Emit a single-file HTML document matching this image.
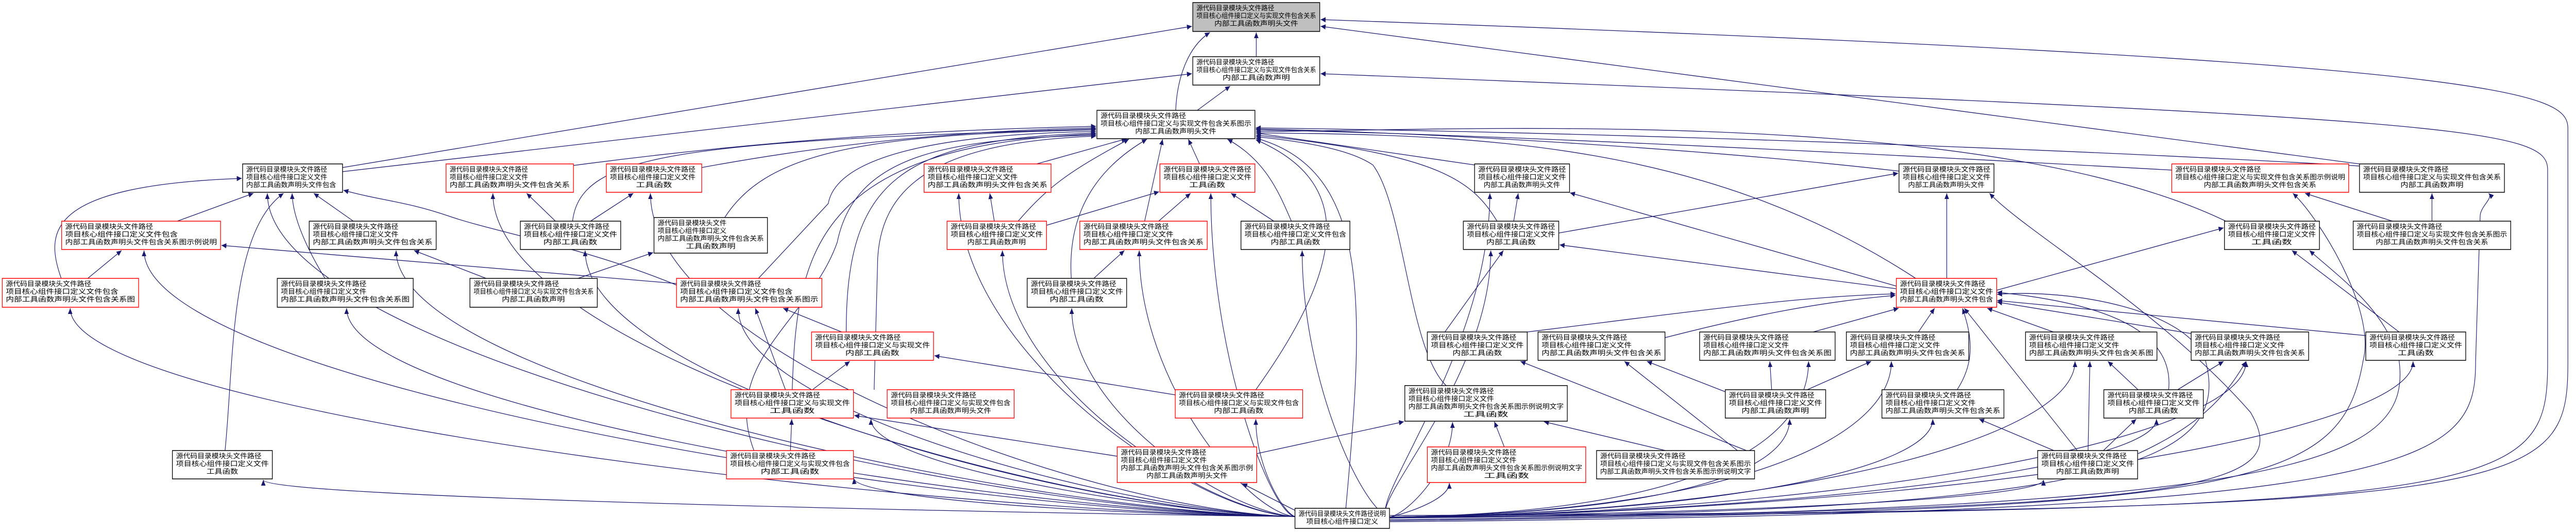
<!DOCTYPE html>
<html><head><meta charset="utf-8"><style>
html,body{margin:0;padding:0;background:#fff;width:100%;height:100%;overflow:hidden}
svg{display:block;overflow:hidden;width:100vw;height:100vh;position:absolute;left:0;top:0}
text{font-family:"Liberation Sans","Noto Sans CJK SC",sans-serif;font-size:13px;fill:#000}
.m{text-anchor:middle}
.n rect{fill:#fff;stroke:#000;stroke-width:1.5}
.r rect{fill:#fff;stroke:#ff0000;stroke-width:1.5}
.e path{fill:none;stroke:#191970;stroke-width:1.3}
</style></head><body>
<svg viewBox="0 0 5723 1032" preserveAspectRatio="none" xmlns="http://www.w3.org/2000/svg">
<defs><marker id="a" markerUnits="userSpaceOnUse" markerWidth="12" markerHeight="10" refX="11" refY="5" orient="auto"><path d="M0,0 L11,5 L0,10 z" fill="#191970"/></marker></defs>
<g class="e" marker-end="url(#a)">
<path d="M2791,110 L2791,63"/>
<path d="M2612,214 C2615,150 2640,90 2688,63"/>
<path d="M2660,214 L2733,167"/>
<path d="M761,325 L2648,51"/>
<path d="M761,333 L2648,143"/>
<path d="M3088,1000 C5640,990 5705,960 5705,700 L5705,250 C5705,180 5600,120 2934,38"/>
<path d="M3088,1003 C5590,990 5660,960 5660,700 L5660,330 C5660,250 5500,230 2934,143"/>
<path d="M5242,318 L2934,51"/>
<path d="M1274,321 C1800,260 2200,250 2435,245"/>
<path d="M1559,325 C1900,270 2200,252 2435,248"/>
<path d="M1272,429 C1290,300 1500,275 2435,250"/>
<path d="M1610,422 C1700,300 1900,260 2435,252"/>
<path d="M1685,540 L1840,395 C1860,300 2100,260 2435,255"/>
<path d="M1880,644 C1880,350 2000,270 2435,258"/>
<path d="M1760,756 C1770,500 1800,280 2435,260"/>
<path d="M1675,874 C1600,700 1800,620 1860,470 C1900,300 2100,270 2435,262"/>
<path d="M1942,756 L1950,500 C1960,350 2100,275 2435,264"/>
<path d="M2303,318 L2503,269"/>
<path d="M2262,429 C2330,360 2380,330 2508,270"/>
<path d="M2380,540 C2370,400 2450,320 2548,270"/>
<path d="M2543,429 L2583,270"/>
<path d="M2665,318 L2640,270"/>
<path d="M2869,429 C2840,370 2810,310 2727,270"/>
<path d="M2790,756 C3000,500 3000,350 2790,271"/>
<path d="M3276,320 L2790,258"/>
<path d="M3326,429 C3270,350 3200,300 2790,262"/>
<path d="M3213,748 C3130,680 3120,400 3050,320 C3000,290 2900,275 2790,265"/>
<path d="M2990,986 C3030,600 3050,330 2790,268"/>
<path d="M4945,429 C4400,200 3200,255 2790,255"/>
<path d="M4825,330 C4000,290 3200,258 2790,252"/>
<path d="M4219,332 C3800,290 3200,258 2790,250"/>
<path d="M5242,322 C4400,280 3400,255 2790,248"/>
<path d="M4256,540 C3800,280 3300,260 2790,258"/>
<path d="M3393,644 C3800,600 4000,575 4211,570"/>
<path d="M3699,655 C3900,610 4050,585 4211,573"/>
<path d="M4028,644 L4218,598"/>
<path d="M4262,644 L4298,598"/>
<path d="M4562,644 L4415,598"/>
<path d="M4868,647 L4437,586"/>
<path d="M5256,651 L4437,583"/>
<path d="M4348,756 C4390,700 4380,650 4360,598"/>
<path d="M4615,874 L4364,598"/>
<path d="M4818,756 C4830,650 4700,590 4437,567"/>
<path d="M4436,563 L4940,442"/>
<path d="M4325,540 L4325,375"/>
<path d="M5315,429 L5121,375"/>
<path d="M5403,429 L5403,375"/>
<path d="M5330,644 L5092,486"/>
<path d="M3463,452 L4217,336"/>
<path d="M4212,560 L3465,475"/>
<path d="M3210,644 L3340,486"/>
<path d="M3833,760 L3659,701"/>
<path d="M3880,874 L3378,701"/>
<path d="M3860,874 L3609,701"/>
<path d="M2792,880 L3119,818"/>
<path d="M3342,867 L3320,818"/>
<path d="M3700,874 L3430,818"/>
<path d="M394,429 L563,375"/>
<path d="M785,429 L697,375"/>
<path d="M722,540 C680,480 650,420 649,375"/>
<path d="M500,874 C520,700 510,450 630,375"/>
<path d="M136,540 C100,450 100,360 537,346"/>
<path d="M1503,553 C1300,480 1100,450 1000,420 C900,390 850,390 763,369"/>
<path d="M195,540 L270,486"/>
<path d="M1503,550 L492,476"/>
<path d="M1080,540 L920,486"/>
<path d="M1284,540 L1451,490"/>
<path d="M1234,429 L1170,375"/>
<path d="M1312,429 L1407,375"/>
<path d="M1870,644 L1740,598"/>
<path d="M1745,756 L1678,598"/>
<path d="M1805,756 L1888,701"/>
<path d="M1756,874 L1759,813"/>
<path d="M2209,429 L2199,375"/>
<path d="M2325,437 L2575,372"/>
<path d="M2574,429 L2645,375"/>
<path d="M2830,429 L2735,375"/>
<path d="M2430,540 L2498,486"/>
<path d="M2611,766 L2076,690"/>
<path d="M2482,885 L1898,806"/>
<path d="M3363,429 L3373,375"/>
<path d="M4213,555 L3488,374"/>
<path d="M3936,756 L3932,701"/>
<path d="M4015,756 L4157,701"/>
<path d="M4639,874 L4643,701"/>
<path d="M4750,756 L4683,701"/>
<path d="M4838,756 L4940,701"/>
<path d="M4750,880 C4900,820 4950,760 4990,701"/>
<path d="M4563,874 L4397,813"/>
<path d="M4673,874 L4746,813"/>
<path d="M3088,1010 C5000,990 5200,950 5250,700 C5280,600 5150,420 5094,375"/>
<path d="M3088,1012 C5400,995 5500,900 5500,700 L5510,420 C5510,400 5540,385 5529,375"/>
<path d="M3088,1008 C5100,990 5360,900 5330,700 C5300,600 5200,540 5131,486"/>
<path d="M3088,1005 C4900,990 5100,950 5000,800 C4800,600 4500,450 4420,375"/>
<path d="M3088,1004 C4700,995 4960,900 4900,700 C4860,600 4600,560 4437,571"/>
<path d="M2877,1002 C2300,995 1900,960 1897,928"/>
<path d="M2877,990 L2760,938"/>
<path d="M2877,1002 C2041,995 156,800 156,598"/>
<path d="M2877,1002 C2090,995 320,742 320,486"/>
<path d="M2877,1002 C2172,995 594,687 594,375"/>
<path d="M2877,1002 C2192,995 585,965 585,931"/>
<path d="M2877,1002 C2270,995 770,798 770,598"/>
<path d="M2877,1002 C2300,995 880,742 880,486"/>
<path d="M2877,1002 C2362,995 1095,687 1095,375"/>
<path d="M2877,1002 C2404,995 1300,742 1300,486"/>
<path d="M2877,1002 C2447,995 1445,687 1445,375"/>
<path d="M2877,1002 C2506,995 1640,798 1640,598"/>
<path d="M2877,1002 C2653,995 2130,687 2130,375"/>
<path d="M2877,1002 C2682,995 2227,742 2227,486"/>
<path d="M2877,1002 C2595,995 1935,906 1935,813"/>
<path d="M2877,1002 C2771,995 2531,742 2531,486"/>
<path d="M2877,1002 C2728,995 2381,798 2381,598"/>
<path d="M2877,1002 C2821,995 2690,687 2690,375"/>
<path d="M2877,1002 C2851,995 2790,906 2790,813"/>
<path d="M3088,1003 C3030,995 2893,742 2893,486"/>
<path d="M3088,1003 C3020,995 3312,742 3312,486"/>
<path d="M3088,1003 C3020,995 3310,687 3310,375"/>
<path d="M3088,1003 C3130,995 3227,906 3227,819"/>
<path d="M3088,1003 C3128,995 3220,968 3220,937"/>
<path d="M3088,1003 C3797,995 4018,850 4018,701"/>
<path d="M3088,1003 C3852,995 4202,850 4202,701"/>
<path d="M3088,1003 C3975,995 4610,850 4610,701"/>
<path d="M3088,1003 C4119,995 4990,850 4990,701"/>
<path d="M3088,1003 C4230,995 5361,850 5361,701"/>
<path d="M3088,1003 C3749,995 3976,906 3976,813"/>
<path d="M3088,1003 C3844,995 4294,906 4294,813"/>
<path d="M3088,1003 C3993,995 4791,906 4791,813"/>
<path d="M3088,1003 C3924,995 4540,965 4540,931"/>
</g>
<g class="n"><rect x="2650" y="5" width="282" height="56" style="fill:#bfbfbf"/><text x="2658" y="20" textLength="173" lengthAdjust="spacingAndGlyphs">源代码目录模块头文件路径</text><text x="2658" y="35" textLength="266" lengthAdjust="spacingAndGlyphs">项目核心组件接口定义与实现文件包含关系</text><text class="m" x="2791" y="50" textLength="186" lengthAdjust="spacingAndGlyphs">内部工具函数声明头文件</text></g>
<g class="n"><rect x="2650" y="110" width="282" height="55"/><text x="2658" y="125" textLength="173" lengthAdjust="spacingAndGlyphs">源代码目录模块头文件路径</text><text x="2658" y="140" textLength="266" lengthAdjust="spacingAndGlyphs">项目核心组件接口定义与实现文件包含关系</text><text class="m" x="2791" y="155" textLength="150" lengthAdjust="spacingAndGlyphs">内部工具函数声明</text></g>
<g class="n"><rect x="2437" y="214" width="351" height="55"/><text x="2445" y="229" textLength="190" lengthAdjust="spacingAndGlyphs">源代码目录模块头文件路径</text><text x="2445" y="244" textLength="335" lengthAdjust="spacingAndGlyphs">项目核心组件接口定义与实现文件包含关系图示</text><text class="m" x="2612" y="259" textLength="180" lengthAdjust="spacingAndGlyphs">内部工具函数声明头文件</text></g>
<g class="n"><rect x="539" y="318" width="222" height="55"/><text x="547" y="333" textLength="180" lengthAdjust="spacingAndGlyphs">源代码目录模块头文件路径</text><text x="547" y="348" textLength="180" lengthAdjust="spacingAndGlyphs">项目核心组件接口定义文件</text><text x="547" y="363" textLength="200" lengthAdjust="spacingAndGlyphs">内部工具函数声明头文件包含</text></g>
<g class="r"><rect x="991" y="318" width="283" height="55"/><text x="999" y="333" textLength="174" lengthAdjust="spacingAndGlyphs">源代码目录模块头文件路径</text><text x="999" y="348" textLength="174" lengthAdjust="spacingAndGlyphs">项目核心组件接口定义文件</text><text x="999" y="363" textLength="267" lengthAdjust="spacingAndGlyphs">内部工具函数声明头文件包含关系</text></g>
<g class="r"><rect x="1347" y="318" width="212" height="55"/><text x="1355" y="333" textLength="190" lengthAdjust="spacingAndGlyphs">源代码目录模块头文件路径</text><text x="1355" y="348" textLength="190" lengthAdjust="spacingAndGlyphs">项目核心组件接口定义文件</text><text class="m" x="1453" y="363" textLength="80" lengthAdjust="spacingAndGlyphs">工具函数</text></g>
<g class="r"><rect x="2053" y="318" width="282" height="55"/><text x="2061" y="333" textLength="190" lengthAdjust="spacingAndGlyphs">源代码目录模块头文件路径</text><text x="2061" y="348" textLength="200" lengthAdjust="spacingAndGlyphs">项目核心组件接口定义文件</text><text x="2061" y="363" textLength="266" lengthAdjust="spacingAndGlyphs">内部工具函数声明头文件包含关系</text></g>
<g class="r"><rect x="2577" y="318" width="211" height="55"/><text x="2585" y="333" textLength="195" lengthAdjust="spacingAndGlyphs">源代码目录模块头文件路径</text><text x="2585" y="348" textLength="195" lengthAdjust="spacingAndGlyphs">项目核心组件接口定义文件</text><text class="m" x="2682" y="363" textLength="80" lengthAdjust="spacingAndGlyphs">工具函数</text></g>
<g class="n"><rect x="3276" y="318" width="211" height="55"/><text x="3284" y="333" textLength="195" lengthAdjust="spacingAndGlyphs">源代码目录模块头文件路径</text><text x="3284" y="348" textLength="195" lengthAdjust="spacingAndGlyphs">项目核心组件接口定义文件</text><text class="m" x="3381" y="363" textLength="170" lengthAdjust="spacingAndGlyphs">内部工具函数声明头文件</text></g>
<g class="n"><rect x="4219" y="318" width="211" height="55"/><text x="4227" y="333" textLength="195" lengthAdjust="spacingAndGlyphs">源代码目录模块头文件路径</text><text x="4227" y="348" textLength="195" lengthAdjust="spacingAndGlyphs">项目核心组件接口定义文件</text><text class="m" x="4324" y="363" textLength="170" lengthAdjust="spacingAndGlyphs">内部工具函数声明头文件</text></g>
<g class="r"><rect x="4825" y="318" width="393" height="55"/><text x="4833" y="333" textLength="190" lengthAdjust="spacingAndGlyphs">源代码目录模块头文件路径</text><text x="4833" y="348" textLength="377" lengthAdjust="spacingAndGlyphs">项目核心组件接口定义与实现文件包含关系图示例说明</text><text class="m" x="5021" y="363" textLength="250" lengthAdjust="spacingAndGlyphs">内部工具函数声明头文件包含关系</text></g>
<g class="n"><rect x="5242" y="318" width="322" height="55"/><text x="5250" y="333" textLength="190" lengthAdjust="spacingAndGlyphs">源代码目录模块头文件路径</text><text x="5250" y="348" textLength="306" lengthAdjust="spacingAndGlyphs">项目核心组件接口定义与实现文件包含关系</text><text class="m" x="5403" y="363" textLength="140" lengthAdjust="spacingAndGlyphs">内部工具函数声明</text></g>
<g class="r"><rect x="137" y="429" width="353" height="55"/><text x="145" y="444" textLength="195" lengthAdjust="spacingAndGlyphs">源代码目录模块头文件路径</text><text x="145" y="459" textLength="250" lengthAdjust="spacingAndGlyphs">项目核心组件接口定义文件包含</text><text x="145" y="474" textLength="337" lengthAdjust="spacingAndGlyphs">内部工具函数声明头文件包含关系图示例说明</text></g>
<g class="n"><rect x="687" y="429" width="282" height="55"/><text x="695" y="444" textLength="190" lengthAdjust="spacingAndGlyphs">源代码目录模块头文件路径</text><text x="695" y="459" textLength="190" lengthAdjust="spacingAndGlyphs">项目核心组件接口定义文件</text><text x="695" y="474" textLength="266" lengthAdjust="spacingAndGlyphs">内部工具函数声明头文件包含关系</text></g>
<g class="n"><rect x="1156" y="429" width="223" height="55"/><text x="1164" y="444" textLength="190" lengthAdjust="spacingAndGlyphs">源代码目录模块头文件路径</text><text x="1164" y="459" textLength="207" lengthAdjust="spacingAndGlyphs">项目核心组件接口定义文件</text><text class="m" x="1267" y="474" textLength="120" lengthAdjust="spacingAndGlyphs">内部工具函数</text></g>
<g class="n"><rect x="1453" y="422" width="252" height="69"/><text x="1461" y="437" textLength="153" lengthAdjust="spacingAndGlyphs">源代码目录模块头文件</text><text x="1461" y="452" textLength="153" lengthAdjust="spacingAndGlyphs">项目核心组件接口定义</text><text x="1461" y="467" textLength="236" lengthAdjust="spacingAndGlyphs">内部工具函数声明头文件包含关系</text><text class="m" x="1579" y="482" textLength="110" lengthAdjust="spacingAndGlyphs">工具函数声明</text></g>
<g class="r"><rect x="2104" y="429" width="221" height="55"/><text x="2112" y="444" textLength="190" lengthAdjust="spacingAndGlyphs">源代码目录模块头文件路径</text><text x="2112" y="459" textLength="205" lengthAdjust="spacingAndGlyphs">项目核心组件接口定义文件</text><text class="m" x="2214" y="474" textLength="130" lengthAdjust="spacingAndGlyphs">内部工具函数声明</text></g>
<g class="r"><rect x="2399" y="429" width="283" height="55"/><text x="2407" y="444" textLength="190" lengthAdjust="spacingAndGlyphs">源代码目录模块头文件路径</text><text x="2407" y="459" textLength="200" lengthAdjust="spacingAndGlyphs">项目核心组件接口定义文件</text><text x="2407" y="474" textLength="267" lengthAdjust="spacingAndGlyphs">内部工具函数声明头文件包含关系</text></g>
<g class="n"><rect x="2757" y="429" width="242" height="55"/><text x="2765" y="444" textLength="190" lengthAdjust="spacingAndGlyphs">源代码目录模块头文件路径</text><text x="2765" y="459" textLength="226" lengthAdjust="spacingAndGlyphs">项目核心组件接口定义文件包含</text><text class="m" x="2878" y="474" textLength="110" lengthAdjust="spacingAndGlyphs">内部工具函数</text></g>
<g class="n"><rect x="3251" y="429" width="212" height="55"/><text x="3259" y="444" textLength="196" lengthAdjust="spacingAndGlyphs">源代码目录模块头文件路径</text><text x="3259" y="459" textLength="196" lengthAdjust="spacingAndGlyphs">项目核心组件接口定义文件</text><text class="m" x="3357" y="474" textLength="110" lengthAdjust="spacingAndGlyphs">内部工具函数</text></g>
<g class="n"><rect x="4942" y="429" width="211" height="55"/><text x="4950" y="444" textLength="195" lengthAdjust="spacingAndGlyphs">源代码目录模块头文件路径</text><text x="4950" y="459" textLength="195" lengthAdjust="spacingAndGlyphs">项目核心组件接口定义文件</text><text class="m" x="5047" y="474" textLength="90" lengthAdjust="spacingAndGlyphs">工具函数</text></g>
<g class="n"><rect x="5228" y="429" width="350" height="55"/><text x="5236" y="444" textLength="190" lengthAdjust="spacingAndGlyphs">源代码目录模块头文件路径</text><text x="5236" y="459" textLength="334" lengthAdjust="spacingAndGlyphs">项目核心组件接口定义与实现文件包含关系图示</text><text class="m" x="5403" y="474" textLength="250" lengthAdjust="spacingAndGlyphs">内部工具函数声明头文件包含关系</text></g>
<g class="r"><rect x="5" y="540" width="303" height="56"/><text x="13" y="555" textLength="190" lengthAdjust="spacingAndGlyphs">源代码目录模块头文件路径</text><text x="13" y="570" textLength="250" lengthAdjust="spacingAndGlyphs">项目核心组件接口定义文件包含</text><text x="13" y="585" textLength="287" lengthAdjust="spacingAndGlyphs">内部工具函数声明头文件包含关系图</text></g>
<g class="n"><rect x="616" y="540" width="302" height="56"/><text x="624" y="555" textLength="190" lengthAdjust="spacingAndGlyphs">源代码目录模块头文件路径</text><text x="624" y="570" textLength="190" lengthAdjust="spacingAndGlyphs">项目核心组件接口定义文件</text><text x="624" y="585" textLength="286" lengthAdjust="spacingAndGlyphs">内部工具函数声明头文件包含关系图</text></g>
<g class="n"><rect x="1044" y="540" width="283" height="56"/><text x="1052" y="555" textLength="190" lengthAdjust="spacingAndGlyphs">源代码目录模块头文件路径</text><text x="1052" y="570" textLength="267" lengthAdjust="spacingAndGlyphs">项目核心组件接口定义与实现文件包含关系</text><text class="m" x="1185" y="585" textLength="140" lengthAdjust="spacingAndGlyphs">内部工具函数声明</text></g>
<g class="r"><rect x="1503" y="540" width="323" height="56"/><text x="1511" y="555" textLength="180" lengthAdjust="spacingAndGlyphs">源代码目录模块头文件路径</text><text x="1511" y="570" textLength="250" lengthAdjust="spacingAndGlyphs">项目核心组件接口定义文件包含</text><text x="1511" y="585" textLength="307" lengthAdjust="spacingAndGlyphs">内部工具函数声明头文件包含关系图示</text></g>
<g class="n"><rect x="2282" y="540" width="221" height="56"/><text x="2290" y="555" textLength="190" lengthAdjust="spacingAndGlyphs">源代码目录模块头文件路径</text><text x="2290" y="570" textLength="205" lengthAdjust="spacingAndGlyphs">项目核心组件接口定义文件</text><text class="m" x="2392" y="585" textLength="120" lengthAdjust="spacingAndGlyphs">内部工具函数</text></g>
<g class="r"><rect x="4213" y="540" width="223" height="56"/><text x="4221" y="555" textLength="190" lengthAdjust="spacingAndGlyphs">源代码目录模块头文件路径</text><text x="4221" y="570" textLength="207" lengthAdjust="spacingAndGlyphs">项目核心组件接口定义文件</text><text x="4221" y="585" textLength="207" lengthAdjust="spacingAndGlyphs">内部工具函数声明头文件包含</text></g>
<g class="r"><rect x="1803" y="644" width="271" height="55"/><text x="1811" y="659" textLength="190" lengthAdjust="spacingAndGlyphs">源代码目录模块头文件路径</text><text x="1811" y="674" textLength="255" lengthAdjust="spacingAndGlyphs">项目核心组件接口定义与实现文件</text><text class="m" x="1938" y="689" textLength="120" lengthAdjust="spacingAndGlyphs">内部工具函数</text></g>
<g class="n"><rect x="3171" y="644" width="222" height="55"/><text x="3179" y="659" textLength="190" lengthAdjust="spacingAndGlyphs">源代码目录模块头文件路径</text><text x="3179" y="674" textLength="206" lengthAdjust="spacingAndGlyphs">项目核心组件接口定义文件</text><text class="m" x="3282" y="689" textLength="110" lengthAdjust="spacingAndGlyphs">内部工具函数</text></g>
<g class="n"><rect x="3417" y="644" width="282" height="55"/><text x="3425" y="659" textLength="190" lengthAdjust="spacingAndGlyphs">源代码目录模块头文件路径</text><text x="3425" y="674" textLength="200" lengthAdjust="spacingAndGlyphs">项目核心组件接口定义文件</text><text x="3425" y="689" textLength="266" lengthAdjust="spacingAndGlyphs">内部工具函数声明头文件包含关系</text></g>
<g class="n"><rect x="3776" y="644" width="301" height="55"/><text x="3784" y="659" textLength="190" lengthAdjust="spacingAndGlyphs">源代码目录模块头文件路径</text><text x="3784" y="674" textLength="190" lengthAdjust="spacingAndGlyphs">项目核心组件接口定义文件</text><text x="3784" y="689" textLength="285" lengthAdjust="spacingAndGlyphs">内部工具函数声明头文件包含关系图</text></g>
<g class="n"><rect x="4102" y="644" width="272" height="55"/><text x="4110" y="659" textLength="190" lengthAdjust="spacingAndGlyphs">源代码目录模块头文件路径</text><text x="4110" y="674" textLength="200" lengthAdjust="spacingAndGlyphs">项目核心组件接口定义文件</text><text x="4110" y="689" textLength="256" lengthAdjust="spacingAndGlyphs">内部工具函数声明头文件包含关系</text></g>
<g class="n"><rect x="4500" y="644" width="292" height="55"/><text x="4508" y="659" textLength="190" lengthAdjust="spacingAndGlyphs">源代码目录模块头文件路径</text><text x="4508" y="674" textLength="200" lengthAdjust="spacingAndGlyphs">项目核心组件接口定义文件</text><text x="4508" y="689" textLength="276" lengthAdjust="spacingAndGlyphs">内部工具函数声明头文件包含关系图</text></g>
<g class="n"><rect x="4868" y="644" width="261" height="55"/><text x="4876" y="659" textLength="190" lengthAdjust="spacingAndGlyphs">源代码目录模块头文件路径</text><text x="4876" y="674" textLength="200" lengthAdjust="spacingAndGlyphs">项目核心组件接口定义文件</text><text x="4876" y="689" textLength="245" lengthAdjust="spacingAndGlyphs">内部工具函数声明头文件包含关系</text></g>
<g class="n"><rect x="5256" y="644" width="222" height="55"/><text x="5264" y="659" textLength="190" lengthAdjust="spacingAndGlyphs">源代码目录模块头文件路径</text><text x="5264" y="674" textLength="206" lengthAdjust="spacingAndGlyphs">项目核心组件接口定义文件</text><text class="m" x="5367" y="689" textLength="80" lengthAdjust="spacingAndGlyphs">工具函数</text></g>
<g class="r"><rect x="1624" y="756" width="272" height="55"/><text x="1632" y="771" textLength="190" lengthAdjust="spacingAndGlyphs">源代码目录模块头文件路径</text><text x="1632" y="786" textLength="256" lengthAdjust="spacingAndGlyphs">项目核心组件接口定义与实现文件</text><text class="m" x="1760" y="801" textLength="100" lengthAdjust="spacingAndGlyphs">工具函数</text></g>
<g class="r"><rect x="1971" y="756" width="282" height="55"/><text x="1979" y="771" textLength="190" lengthAdjust="spacingAndGlyphs">源代码目录模块头文件路径</text><text x="1979" y="786" textLength="266" lengthAdjust="spacingAndGlyphs">项目核心组件接口定义与实现文件包含</text><text class="m" x="2112" y="801" textLength="180" lengthAdjust="spacingAndGlyphs">内部工具函数声明头文件</text></g>
<g class="r"><rect x="2611" y="756" width="283" height="55"/><text x="2619" y="771" textLength="190" lengthAdjust="spacingAndGlyphs">源代码目录模块头文件路径</text><text x="2619" y="786" textLength="267" lengthAdjust="spacingAndGlyphs">项目核心组件接口定义与实现文件包含</text><text class="m" x="2752" y="801" textLength="110" lengthAdjust="spacingAndGlyphs">内部工具函数</text></g>
<g class="n"><rect x="3121" y="748" width="361" height="69"/><text x="3129" y="763" textLength="190" lengthAdjust="spacingAndGlyphs">源代码目录模块头文件路径</text><text x="3129" y="778" textLength="190" lengthAdjust="spacingAndGlyphs">项目核心组件接口定义文件</text><text x="3129" y="793" textLength="345" lengthAdjust="spacingAndGlyphs">内部工具函数声明头文件包含关系图示例说明文字</text><text class="m" x="3301" y="808" textLength="100" lengthAdjust="spacingAndGlyphs">工具函数</text></g>
<g class="n"><rect x="3833" y="756" width="223" height="55"/><text x="3841" y="771" textLength="190" lengthAdjust="spacingAndGlyphs">源代码目录模块头文件路径</text><text x="3841" y="786" textLength="207" lengthAdjust="spacingAndGlyphs">项目核心组件接口定义文件</text><text class="m" x="3944" y="801" textLength="150" lengthAdjust="spacingAndGlyphs">内部工具函数声明</text></g>
<g class="n"><rect x="4181" y="756" width="271" height="55"/><text x="4189" y="771" textLength="190" lengthAdjust="spacingAndGlyphs">源代码目录模块头文件路径</text><text x="4189" y="786" textLength="200" lengthAdjust="spacingAndGlyphs">项目核心组件接口定义文件</text><text x="4189" y="801" textLength="255" lengthAdjust="spacingAndGlyphs">内部工具函数声明头文件包含关系</text></g>
<g class="n"><rect x="4674" y="756" width="221" height="55"/><text x="4682" y="771" textLength="190" lengthAdjust="spacingAndGlyphs">源代码目录模块头文件路径</text><text x="4682" y="786" textLength="205" lengthAdjust="spacingAndGlyphs">项目核心组件接口定义文件</text><text class="m" x="4784" y="801" textLength="110" lengthAdjust="spacingAndGlyphs">内部工具函数</text></g>
<g class="r"><rect x="1614" y="874" width="282" height="55"/><text x="1622" y="889" textLength="190" lengthAdjust="spacingAndGlyphs">源代码目录模块头文件路径</text><text x="1622" y="904" textLength="266" lengthAdjust="spacingAndGlyphs">项目核心组件接口定义与实现文件包含</text><text class="m" x="1755" y="919" textLength="130" lengthAdjust="spacingAndGlyphs">内部工具函数</text></g>
<g class="n"><rect x="383" y="874" width="222" height="55"/><text x="391" y="889" textLength="190" lengthAdjust="spacingAndGlyphs">源代码目录模块头文件路径</text><text x="391" y="904" textLength="206" lengthAdjust="spacingAndGlyphs">项目核心组件接口定义文件</text><text class="m" x="494" y="919" textLength="70" lengthAdjust="spacingAndGlyphs">工具函数</text></g>
<g class="r"><rect x="2482" y="867" width="310" height="69"/><text x="2490" y="882" textLength="190" lengthAdjust="spacingAndGlyphs">源代码目录模块头文件路径</text><text x="2490" y="897" textLength="191" lengthAdjust="spacingAndGlyphs">项目核心组件接口定义文件</text><text x="2490" y="912" textLength="294" lengthAdjust="spacingAndGlyphs">内部工具函数声明头文件包含关系图示例</text><text class="m" x="2637" y="927" textLength="180" lengthAdjust="spacingAndGlyphs">内部工具函数声明头文件</text></g>
<g class="r"><rect x="3171" y="867" width="352" height="69"/><text x="3179" y="882" textLength="190" lengthAdjust="spacingAndGlyphs">源代码目录模块头文件路径</text><text x="3179" y="897" textLength="190" lengthAdjust="spacingAndGlyphs">项目核心组件接口定义文件</text><text x="3179" y="912" textLength="336" lengthAdjust="spacingAndGlyphs">内部工具函数声明头文件包含关系图示例说明文字</text><text class="m" x="3347" y="927" textLength="100" lengthAdjust="spacingAndGlyphs">工具函数</text></g>
<g class="n"><rect x="3547" y="874" width="351" height="55"/><text x="3555" y="889" textLength="190" lengthAdjust="spacingAndGlyphs">源代码目录模块头文件路径</text><text x="3555" y="904" textLength="335" lengthAdjust="spacingAndGlyphs">项目核心组件接口定义与实现文件包含关系图示</text><text x="3555" y="919" textLength="335" lengthAdjust="spacingAndGlyphs">内部工具函数声明头文件包含关系图示例说明文字</text></g>
<g class="n"><rect x="4527" y="874" width="222" height="55"/><text x="4535" y="889" textLength="190" lengthAdjust="spacingAndGlyphs">源代码目录模块头文件路径</text><text x="4535" y="904" textLength="206" lengthAdjust="spacingAndGlyphs">项目核心组件接口定义文件</text><text class="m" x="4638" y="919" textLength="140" lengthAdjust="spacingAndGlyphs">内部工具函数声明</text></g>
<g class="n"><rect x="2877" y="986" width="210" height="39"/><text x="2885" y="1001" textLength="194" lengthAdjust="spacingAndGlyphs">源代码目录模块头文件路径说明</text><text class="m" x="2982" y="1016" textLength="160" lengthAdjust="spacingAndGlyphs">项目核心组件接口定义</text></g>
</svg>
</body></html>
